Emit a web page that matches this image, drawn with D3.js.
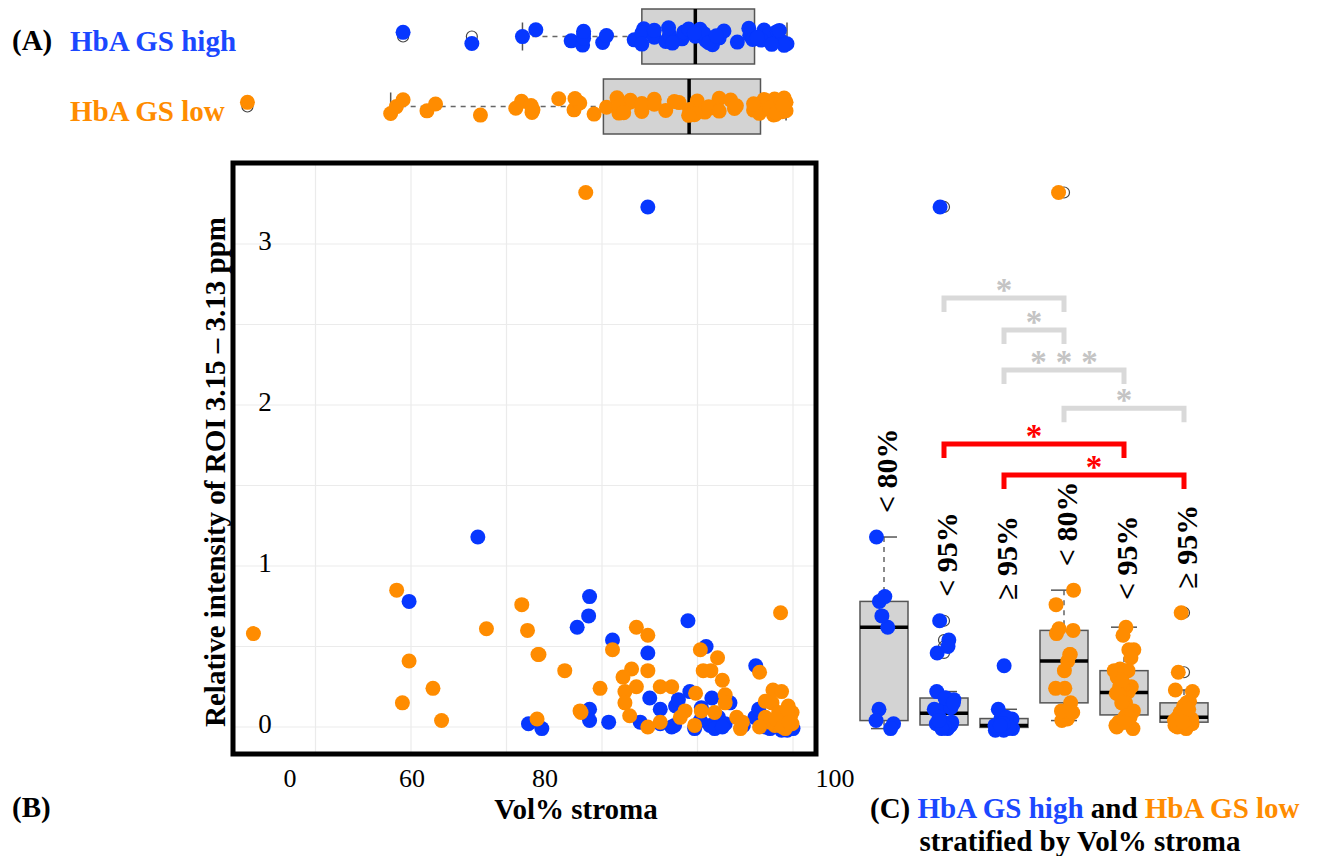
<!DOCTYPE html>
<html>
<head>
<meta charset="utf-8">
<script src="https://cdn.jsdelivr.net/npm/d3@7"></script>
<style>
  body { margin: 0; background: #fff; }
  svg { display: block; }
  text { font-family: "Liberation Serif", "Times New Roman", serif; }
</style>
</head>
<body>
<svg id="fig" width="1323" height="856"></svg>
<script>
// ---- data -------------------------------------------------------------
const groupNames = ["HbA GS high", "HbA GS low"];
const strataLabels = ["< 80%", "< 95%", "≥ 95%"];
const strataCuts = [80, 95];

// Vol% stroma and relative intensity (ROI 3.15 – 3.13 ppm) per sample
const highStroma = [59.8, 67.0, 72.3, 73.7, 77.4, 78.7, 78.6, 78.7, 78.7, 80.7,
  81.1, 85.0, 84.0, 84.8, 84.8, 86.1, 86.1, 87.3, 87.7, 87.6,
  89.0, 89.2, 88.0, 90.4, 90.9, 91.5, 91.3, 92.2, 92.9, 93.4,
  94.8, 96.1, 96.0, 96.4, 98.8, 100.0, 97.1, 97.6, 99.4, 98.1,
  99.7, 96.8, 99.0, 91.8, 92.6, 89.7, 97.3, 90.3, 98.4, 96.9,
  99.2];
const highIntensity = [0.78, 1.18, 0.02, -0.01, 0.62, 0.81, 0.69, 0.11, 0.04, 0.03,
  0.54, 0.18, 0.03, 3.23, 0.46, 0.11, 0.02, 0.00, 0.13, 0.01,
  0.66, 0.22, 0.17, 0.12, 0.50, 0.18, 0.01, 0.06, 0.02, 0.15,
  0.01, 0.38, 0.06, 0.11, -0.02, -0.01, 0.00, -0.01, -0.02, 0.02,
  0.00, 0.01, 0.05, -0.01, 0.00, -0.01, 0.00, 0.04, 0.06, 0.02,
  0.01];

const lowStroma = [43.5, 58.5, 59.1, 59.8, 62.3, 63.2, 67.9, 71.6, 72.2, 73.3,
  73.2, 76.1, 77.7, 78.3, 79.8, 81.1, 83.6, 84.8, 83.1, 82.2,
  84.8, 83.6, 82.4, 82.4, 86.1, 87.3, 84.8, 90.3, 92.1, 90.6,
  91.4, 92.6, 92.9, 89.8, 88.7, 90.4, 91.8, 94.1, 92.9, 86.1,
  89.7, 94.5, 88.2, 82.9, 94.7, 98.7, 96.5, 97.9, 98.8, 97.1,
  97.8, 99.5, 98.5, 99.7, 98.1, 99.9, 97.1, 99.2, 97.6, 99.9,
  96.5, 98.6, 98.2, 99.4, 98.9, 99.6, 77.8, 73.4];
const lowIntensity = [0.58, 0.85, 0.15, 0.41, 0.24, 0.04, 0.61, 0.76, 0.60, 0.45,
  0.05, 0.35, 0.10, 3.32, 0.24, 0.48, 0.62, 0.57, 0.36, 0.31,
  0.35, 0.25, 0.22, 0.15, 0.25, 0.25, 0.00, 0.48, 0.43, 0.35,
  0.35, 0.29, 0.20, 0.21, 0.10, 0.10, 0.09, 0.06, 0.15, 0.03,
  0.01, -0.01, 0.06, 0.07, 0.03, 0.71, 0.34, 0.23, 0.22, 0.16,
  0.15, 0.13, 0.09, 0.06, 0.01, 0.02, 0.06, -0.01, 0.03, 0.09,
  0.00, 0.04, 0.05, 0.11, 0.00, 0.03, 0.09, 0.45];

// axis annotations
const xTickValues = [0, 60, 80, 100];
const xTickLabels = ["0", "60", "80", "100"];
const yTickValues = [0, 1, 2, 3];
const xGrid = [50, 60, 70, 80, 90, 100];
const yGrid = [0, 0.5, 1, 1.5, 2, 2.5, 3];

// pairwise comparisons between the six strata (column indices), with star codes
const sigPairs = [[1, 3], [2, 3], [2, 4], [3, 5], [1, 4], [2, 5]];
const sigLabels = ["*", "*", "***", "*", "*", "*"];
const sigHeights = [2.665, 2.466, 2.217, 1.98, 1.758, 1.565];

// ---- styling ----------------------------------------------------------
const colors = ["#0637ff", "#ff8c00"];
const textColors = ["#1b48ff", "#ff8c00"];
const highlighted = new Set([4, 5]);
const R = 7.5;

const svg = d3.select("#fig");

// ---- helpers ----------------------------------------------------------
const jit = i => ((i * 0.6180339887 + 0.27) % 1) * 2 - 1;

function boxStats(vals) {
  const s = vals.slice().sort(d3.ascending);
  const q1 = d3.quantileSorted(s, 0.25), med = d3.quantileSorted(s, 0.5), q3 = d3.quantileSorted(s, 0.75);
  const iqr = q3 - q1;
  const lo = d3.min(s.filter(v => v >= q1 - 1.5 * iqr));
  const hi = d3.max(s.filter(v => v <= q3 + 1.5 * iqr));
  return { q1, med, q3, lo, hi, out: s.filter(v => v < lo || v > hi) };
}

const stroma = [highStroma, lowStroma];
const intensity = [highIntensity, lowIntensity];
const records = groupNames.map((g, gi) => stroma[gi].map((s, i) => ({
  g: gi, s, v: intensity[gi][i], i,
  stratum: s < strataCuts[0] ? 0 : (s < strataCuts[1] ? 1 : 2)
})));

// ---- scales -----------------------------------------------------------
const xScale = d3.scaleLinear([50, 100], [315.5, 793]);
const xStrip = d3.scaleLinear([50, 100], [309.5, 787]);
const yScale = d3.scaleLinear([0, 3.5], [727, 163.5]);
const xTickScale = d3.scaleLinear(xTickValues, [290, 412, 545, 835]);
const colKeys = d3.range(6);
const colScale = d3.scalePoint(colKeys, [884, 1184]);
const stripRows = d3.scalePoint([0, 1], [36.5, 106.5]);

// ---- (A) marginal boxplots of Vol% stroma ----------------------------
const gA = svg.append("g");
records.forEach((rec, gi) => {
  const st = boxStats(rec.map(d => d.s));
  const cy = stripRows(gi), h = 55;
  const g = gA.append("g");
  g.append("line").attr("x1", xStrip(st.lo)).attr("x2", xStrip(st.q1)).attr("y1", cy).attr("y2", cy)
    .attr("stroke", "#666").attr("stroke-width", 1.5).attr("stroke-dasharray", "5,5");
  g.append("line").attr("x1", xStrip(st.q3)).attr("x2", xStrip(st.hi)).attr("y1", cy).attr("y2", cy)
    .attr("stroke", "#666").attr("stroke-width", 1.5).attr("stroke-dasharray", "5,5");
  [st.lo, st.hi].forEach(v => g.append("line").attr("x1", xStrip(v)).attr("x2", xStrip(v))
    .attr("y1", cy - 14).attr("y2", cy + 14).attr("stroke", "#555").attr("stroke-width", 1.5));
  g.append("rect").attr("x", xStrip(st.q1)).attr("y", cy - h / 2)
    .attr("width", xStrip(st.q3) - xStrip(st.q1)).attr("height", h)
    .attr("fill", "#d3d3d3").attr("stroke", "#555").attr("stroke-width", 1.5);
  g.append("line").attr("x1", xStrip(st.med)).attr("x2", xStrip(st.med))
    .attr("y1", cy - h / 2).attr("y2", cy + h / 2).attr("stroke", "#000").attr("stroke-width", 3.5);
  g.selectAll("circle.out").data(st.out).join("circle").attr("class", "out")
    .attr("cx", d => xStrip(d)).attr("cy", cy).attr("r", 5.5)
    .attr("fill", "none").attr("stroke", "#444").attr("stroke-width", 1.2);
  g.selectAll("circle.pt").data(rec).join("circle").attr("class", "pt")
    .attr("cx", d => xStrip(d.s)).attr("cy", d => cy + 9 * jit(d.i))
    .attr("r", R).attr("fill", colors[gi]);
});

gA.append("text").attr("x", 12).attr("y", 50).attr("font-size", 29).attr("font-weight", "bold").text("(A)");
groupNames.forEach((g, gi) => gA.append("text").attr("x", 70).attr("y", stripRows(gi) + 14)
  .attr("font-size", 29).attr("font-weight", "bold").attr("fill", textColors[gi]).text(g));

// ---- (B) scatter ------------------------------------------------------
const frame = { x: 233, y: 163, w: 583, h: 591 };
const gB = svg.append("g");
gB.selectAll("line.gx").data(xGrid).join("line").attr("class", "gx")
  .attr("x1", d => xScale(d)).attr("x2", d => xScale(d)).attr("y1", frame.y).attr("y2", frame.y + frame.h)
  .attr("stroke", "#ebebeb").attr("stroke-width", 1.2);
gB.selectAll("line.gy").data(yGrid).join("line").attr("class", "gy")
  .attr("x1", frame.x).attr("x2", frame.x + frame.w).attr("y1", d => yScale(d)).attr("y2", d => yScale(d))
  .attr("stroke", "#ebebeb").attr("stroke-width", 1.2);
gB.selectAll("text.yt").data(yTickValues).join("text").attr("class", "yt")
  .attr("x", 265).attr("y", d => yScale(d) + 6).attr("text-anchor", "middle")
  .attr("font-size", 27).text(d => d3.format("d")(d));
records.forEach((rec, gi) => {
  gB.selectAll("circle.s" + gi).data(rec).join("circle").attr("class", "s" + gi)
    .attr("cx", d => xScale(d.s)).attr("cy", d => yScale(d.v)).attr("r", R).attr("fill", colors[gi]);
});
gB.append("rect").attr("x", frame.x).attr("y", frame.y).attr("width", frame.w).attr("height", frame.h)
  .attr("fill", "none").attr("stroke", "#000").attr("stroke-width", 5);
gB.selectAll("text.xt").data(xTickValues).join("text").attr("class", "xt")
  .attr("x", d => xTickScale(d)).attr("y", 787).attr("text-anchor", "middle")
  .attr("font-size", 26).text((d, i) => xTickLabels[i]);
gB.append("text").attr("x", 576).attr("y", 819).attr("text-anchor", "middle")
  .attr("font-size", 29).attr("font-weight", "bold").text("Vol% stroma");
gB.append("text").attr("transform", "translate(225,472) rotate(-90)").attr("text-anchor", "middle")
  .attr("font-size", 29).attr("font-weight", "bold").text("Relative intensity of ROI 3.15 – 3.13 ppm");
gB.append("text").attr("x", 12).attr("y", 817).attr("font-size", 29).attr("font-weight", "bold").text("(B)");

// ---- (C) intensity stratified by Vol% stroma --------------------------
const gC = svg.append("g");
const columns = colKeys.map(k => {
  const gi = Math.floor(k / 3), si = k % 3;
  const pts = records[gi].filter(d => d.stratum === si);
  return { k, gi, si, pts, st: boxStats(pts.map(d => d.v)) };
});
const bw = 48, cap = 13;
columns.forEach(c => {
  const cx = colScale(c.k), st = c.st;
  const g = gC.append("g");
  g.append("line").attr("x1", cx).attr("x2", cx).attr("y1", yScale(st.hi)).attr("y2", yScale(st.q3))
    .attr("stroke", "#666").attr("stroke-width", 1.5).attr("stroke-dasharray", "5,5");
  g.append("line").attr("x1", cx).attr("x2", cx).attr("y1", yScale(st.q1)).attr("y2", yScale(st.lo))
    .attr("stroke", "#666").attr("stroke-width", 1.5).attr("stroke-dasharray", "5,5");
  [st.lo, st.hi].forEach(v => g.append("line").attr("x1", cx - cap).attr("x2", cx + cap)
    .attr("y1", yScale(v)).attr("y2", yScale(v)).attr("stroke", "#555").attr("stroke-width", 1.5));
  g.append("rect").attr("x", cx - bw / 2).attr("y", yScale(st.q3)).attr("width", bw)
    .attr("height", yScale(st.q1) - yScale(st.q3))
    .attr("fill", "#d3d3d3").attr("stroke", "#555").attr("stroke-width", 1.5);
  g.append("line").attr("x1", cx - bw / 2).attr("x2", cx + bw / 2)
    .attr("y1", yScale(st.med)).attr("y2", yScale(st.med)).attr("stroke", "#000").attr("stroke-width", 3.5);
  g.selectAll("circle.out").data(st.out).join("circle").attr("class", "out")
    .attr("cx", cx).attr("cy", d => yScale(d)).attr("r", 5.5)
    .attr("fill", "none").attr("stroke", "#444").attr("stroke-width", 1.2);
  g.selectAll("circle.pt").data(c.pts).join("circle").attr("class", "pt")
    .attr("cx", (d, j) => cx + 10 * jit(j * 3 + c.k)).attr("cy", d => yScale(d.v))
    .attr("r", R).attr("fill", colors[c.gi]);
  // stratum label above the column
  const top = d3.max(c.pts.filter(d => d.v < 2), d => d.v);
  const ly = Math.min(600, yScale(top) - 24);
  g.append("text").attr("transform", `translate(${cx + 13},${ly}) rotate(-90)`)
    .attr("font-size", 30).attr("font-weight", "bold").text(strataLabels[c.si]);
});

// significance brackets
sigPairs.forEach((p, i) => {
  const hot = highlighted.has(i);
  const col = hot ? "#ff0000" : "#d9d9d9";
  const x1 = colScale(p[0]), x2 = colScale(p[1]), y = yScale(sigHeights[i]);
  gC.append("path").attr("d", `M${x1},${y + 14}V${y}H${x2}V${y + 14}`)
    .attr("fill", "none").attr("stroke", col).attr("stroke-width", 5);
  const multi = sigLabels[i].length > 1;
  gC.append("text").attr("x", (x1 + x2) / 2 + (multi ? 4.5 : 0)).attr("y", y + 3)
    .attr("text-anchor", "middle").attr("fill", hot ? "#ff0000" : "#c4c4c4")
    .attr("font-family", "Liberation Sans, Arial, sans-serif").attr("font-size", 33)
    .attr("font-weight", "bold")
    .attr("letter-spacing", multi ? 9 : 0).text(sigLabels[i]);
});

// caption
const cap1 = gC.append("text").attr("x", 870).attr("y", 818).attr("font-size", 29).attr("font-weight", "bold");
cap1.append("tspan").text("(C) ");
cap1.append("tspan").attr("fill", textColors[0]).text(groupNames[0]);
cap1.append("tspan").text(" and ");
cap1.append("tspan").attr("fill", textColors[1]).text(groupNames[1]);
gC.append("text").attr("x", 1080).attr("y", 851).attr("text-anchor", "middle")
  .attr("font-size", 29).attr("font-weight", "bold").text("stratified by Vol% stroma");
</script>
</body>
</html>
